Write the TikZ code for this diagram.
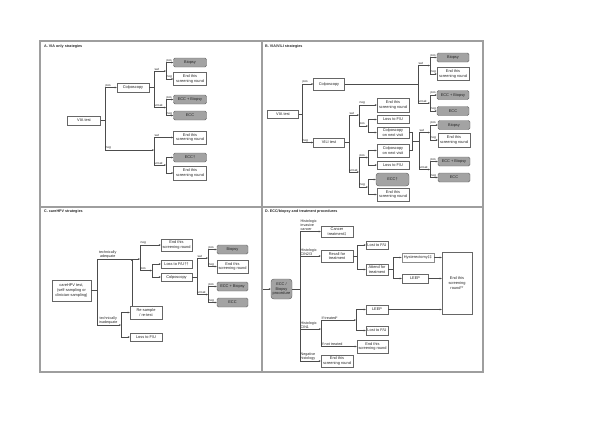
\documentclass[tikz,border=0pt]{standalone}
\usepackage{fontspec}
\setmainfont{Liberation Sans}
\usetikzlibrary{arrows.meta}
\newcommand\bxfont{\fontsize{3.9}{4.7}\selectfont}
\newcommand\lblfont{\fontsize{3.2}{3.8}\selectfont}
\newcommand\wlfont{\fontsize{3.7}{4.3}\selectfont}
\newcommand\ttlfont{\fontsize{3.7}{4.4}\selectfont\bfseries}
\tikzset{
 bx/.style={draw=black!60, line width=0.45pt, fill=white, font=\bxfont, align=center, inner sep=0.3pt, text=black!85},
 gb/.style={bx, fill=black!36, rounded corners=1.5pt},
 sz/.style 2 args={minimum width=#1pt, minimum height=#2pt},
 ln/.style={draw=black!70, line width=0.45pt},
 arr/.style={ln, -{Stealth[length=2pt,width=1.7pt]}},
 lbl/.style={font=\lblfont, anchor=south west, inner sep=0.4pt, text=black!85, pos=0.5},
 wl/.style={lbl, align=left, font=\wlfont},
 frm/.style={draw=black!38, line width=1.4pt},
 ttl/.style={font=\ttlfont, anchor=west, inner sep=0, text=black!85}
}
\begin{document}
\begin{tikzpicture}[x=1pt,y=-1pt]
\useasboundingbox (0,0) rectangle (600,424);
% frame
\draw[frm] (40,41) rectangle (483,372);
\draw[frm] (262,41) -- (262,372);
\draw[frm] (40,207) -- (483,207);
\node[ttl] (tA) at (44,47) {A. VIA only strategies};
\node[ttl] (tB) at (265,47) {B. VIA/VILI strategies};
\node[ttl] (tC) at (44,211.5) {C. careHPV strategies};
\node[ttl] (tD) at (265,211.5) {D. ECC/biopsy and treatment procedures};

% ---------------- Panel A
\node[bx,sz={33}{9}] (viaA) at (84,120.5) {VIA test};
\node[bx,sz={32}{9}] (colA) at (133,87.5) {Colposcopy};
\node[gb,sz={33}{9}] (bioA1) at (190,62.5) {Biopsy};
\node[bx,sz={33}{13}] (endA1) at (190,79) {End this\\screening round};
\node[gb,sz={33}{9}] (eccbA) at (190,99.5) {ECC + Biopsy};
\node[gb,sz={33}{9}] (eccA) at (190,115.5) {ECC};
\node[bx,sz={33}{13}] (endA2) at (190,137.5) {End this\\screening round};
\node[gb,sz={33}{9}] (eccdA) at (190,157.5) {ECC†};
\node[bx,sz={33}{14}] (endA3) at (190,173) {End this\\screening round};
\coordinate (jA0) at (105,120.5);
\coordinate (jA1) at (154,87.5);
\coordinate (jA1s) at (166,71);
\coordinate (jA1u) at (166,107.5);
\coordinate (jA2) at (154,150);
\coordinate (jA2u) at (166,165);
\draw[ln] (viaA.east) -- (jA0);
\draw[arr] (jA0) |- node[lbl]{pos} (colA.west);
\draw[arr] (jA0) |- node[lbl]{neg} (jA2);
\draw[ln] (colA.east) -- (jA1);
\draw[arr] (jA1) |- node[lbl]{sat} (jA1s);
\draw[arr] (jA1) |- node[lbl]{unsat} (jA1u);
\draw[arr] (jA1s) |- node[lbl]{pos} (bioA1.west);
\draw[arr] (jA1s) |- node[lbl]{neg} (endA1.west);
\draw[arr] (jA1u) |- node[lbl]{pos} (eccbA.west);
\draw[arr] (jA1u) |- node[lbl]{neg} (eccA.west);
\draw[arr] (jA2) |- node[lbl]{sat} (endA2.west);
\draw[arr] (jA2) |- node[lbl]{unsat} (jA2u);
\draw[arr] (jA2u) |- (eccdA.west);
\draw[arr] (jA2u) |- (endA3.west);

% ---------------- Panel B
\node[bx,sz={31}{8}] (viaB) at (283,114.5) {VIA test};
\node[bx,sz={31}{12}] (colB) at (329,84) {Colposcopy};
\node[bx,sz={31}{9}] (vili) at (329,142.5) {VILI test};
\node[gb,sz={32}{9}] (bioB1) at (453,57.5) {Biopsy};
\node[bx,sz={32}{13}] (endB1) at (453,74) {End this\\screening round};
\node[gb,sz={32}{9}] (eccbB1) at (453,95) {ECC + Biopsy};
\node[gb,sz={32}{9}] (eccB1) at (453,111) {ECC};
\node[bx,sz={32}{14}] (endB2) at (393,105) {End this\\screening round};
\node[bx,sz={32}{8}] (lossB1) at (393,119.5) {Loss to F/U};
\node[bx,sz={32}{11}] (cnvB1) at (393,132.5) {Colposcopy\\on next visit};
\node[bx,sz={32}{13}] (cnvB2) at (393,150.5) {Colposcopy\\on next visit};
\node[bx,sz={32}{8}] (lossB2) at (393,165) {Loss to F/U};
\node[gb,sz={33}{13},rounded corners=3pt] (eccdB) at (392.5,179.5) {ECC†};
\node[bx,sz={32}{13}] (endB3) at (393,194.5) {End this\\screening round};
\node[gb,sz={32}{9}] (bioB2) at (454,125) {Biopsy};
\node[bx,sz={32}{14}] (endB2b) at (454,140) {End this\\screening round};
\node[gb,sz={32}{9}] (eccbB2) at (454,161.5) {ECC + Biopsy};
\node[gb,sz={32}{9}] (eccB2) at (454,177.5) {ECC};
\coordinate (jB0) at (302,114.5);
\coordinate (jB1) at (418,84);
\coordinate (jB1s) at (430,65.5);
\coordinate (jB1u) at (430,103);
\coordinate (jB2) at (349,142.5);
\coordinate (jB2s) at (359,115);
\coordinate (jB2sp) at (368,126);
\coordinate (jB2u) at (359,172);
\coordinate (jB2up) at (368,157.5);
\coordinate (jB2un) at (368,187);
\coordinate (jB4) at (412,141.5);
\coordinate (jB3) at (419,141.5);
\coordinate (jB3s) at (430,132.5);
\coordinate (jB3u) at (430,169.5);
\draw[ln] (viaB.east) -- (jB0);
\draw[arr] (jB0) |- node[lbl]{pos} (colB.west);
\draw[arr] (jB0) |- node[lbl]{neg} (vili.west);
\draw[ln] (colB.east) -- (jB1);
\draw[arr] (jB1) |- node[lbl]{sat} (jB1s);
\draw[arr] (jB1) |- node[lbl]{unsat} (jB1u);
\draw[arr] (jB1s) |- node[lbl]{pos} (bioB1.west);
\draw[arr] (jB1s) |- node[lbl]{neg} (endB1.west);
\draw[arr] (jB1u) |- node[lbl]{pos} (eccbB1.west);
\draw[arr] (jB1u) |- node[lbl]{neg} (eccB1.west);
\draw[ln] (vili.east) -- (jB2);
\draw[arr] (jB2) |- node[lbl]{sat} (jB2s);
\draw[arr] (jB2) |- node[lbl]{unsat} (jB2u);
\draw[arr] (jB2s) |- node[lbl]{neg} (endB2.west);
\draw[arr] (jB2s) |- node[lbl]{pos} (jB2sp);
\draw[arr] (jB2sp) |- (lossB1.west);
\draw[arr] (jB2sp) |- (cnvB1.west);
\draw[arr] (jB2u) |- node[lbl]{pos} (jB2up);
\draw[arr] (jB2u) |- node[lbl]{neg} (jB2un);
\draw[arr] (jB2up) |- (cnvB2.west);
\draw[arr] (jB2up) |- (lossB2.west);
\draw[arr] (jB2un) |- (eccdB.west);
\draw[arr] (jB2un) |- (endB3.west);
\draw[ln] (cnvB1.east) -| (jB4);
\draw[ln] (cnvB2.east) -| (jB4);
\draw[ln] (jB4) -- (jB3);
\draw[arr] (jB3) |- node[lbl]{sat} (jB3s);
\draw[arr] (jB3) |- node[lbl]{unsat} (jB3u);
\draw[arr] (jB3s) |- node[lbl]{pos} (bioB2.west);
\draw[arr] (jB3s) |- node[lbl]{neg} (endB2b.west);
\draw[arr] (jB3u) |- node[lbl]{pos} (eccbB2.west);
\draw[arr] (jB3u) |- node[lbl]{neg} (eccB2.west);

% ---------------- Panel C
\node[bx,sz={39}{21}] (hpv) at (71.5,290.5) {careHPV test,\\(self-sampling or\\clinician-sampling)};
\node[bx,sz={31}{12}] (endC1) at (176.5,245) {End this\\screening round};
\node[bx,sz={31}{8}] (lossC) at (176.5,264) {Loss to F/U††};
\node[bx,sz={31}{8}] (colC) at (176.5,277) {Colposcopy};
\node[gb,sz={31}{9}] (bioC) at (232.5,249.5) {Biopsy};
\node[bx,sz={31}{13}] (endC2) at (232.5,266.5) {End this\\screening round};
\node[gb,sz={31}{9}] (eccbC) at (232.5,286.5) {ECC + Biopsy};
\node[gb,sz={31}{9}] (eccC) at (232.5,302.5) {ECC};
\node[bx,sz={32}{13}] (resample) at (146,312.5) {Re-sample\\/ re-test};
\node[bx,sz={32}{8}] (lossC2) at (146,337) {Loss to F/U};
\coordinate (jC0) at (97,290.5);
\coordinate (jC1) at (140,259);
\coordinate (jC1p) at (152,270.5);
\coordinate (jC2) at (197,277);
\coordinate (jC2s) at (208,258);
\coordinate (jC2u) at (208,294.5);
\coordinate (jC3) at (121,325);
\draw[ln] (hpv.east) -- (jC0);
\draw[arr] (jC0) |- node[wl,align=center,xshift=1.5pt]{technically\\adequate} (jC1);
\draw[arr] (jC0) |- node[wl,align=center,xshift=1.5pt]{technically\\inadequate} (jC3);
\draw[arr] (jC1) |- node[lbl]{neg} (endC1.west);
\draw[arr] (jC1) |- node[lbl]{pos} (jC1p);
\draw[arr] (jC1p) |- (lossC.west);
\draw[arr] (jC1p) |- (colC.west);
\draw[ln] (colC.east) -- (jC2);
\draw[arr] (jC2) |- node[lbl]{sat} (jC2s);
\draw[arr] (jC2) |- node[lbl]{unsat} (jC2u);
\draw[arr] (jC2s) |- node[lbl]{pos} (bioC.west);
\draw[arr] (jC2s) |- node[lbl]{neg} (endC2.west);
\draw[arr] (jC2u) |- node[lbl]{pos} (eccbC.west);
\draw[arr] (jC2u) |- node[lbl]{neg} (eccC.west);
\draw[arr] (jC3) |- (resample.west);
\draw[arr] (jC3) |- (lossC2.west);
\draw[arr] ([xshift=2pt]resample.north west) -- ([xshift=2pt]resample.north west |- jC1);

% ---------------- Panel D
\node[gb,sz={21}{20},rounded corners=3pt] (ecbp) at (281.5,289) {ECC /\\Biopsy\\procedure};
\node[bx,sz={32}{11}] (cancer) at (337,231.5) {Cancer\\treatment‡};
\node[bx,sz={32}{12}] (recall) at (337,256) {Recall for\\treatment};
\node[bx,sz={32}{12}] (endD3) at (337,361) {End this\\screening round};
\node[bx,sz={22}{8}] (lostD1) at (377,245) {Lost to F/U};
\node[bx,sz={22}{11}] (attend) at (377,269.5) {Attend for\\treatment};
\node[bx,sz={32}{9},line width=0.8pt,draw=black!45] (hyst) at (418,257.5) {Hysterectomy‡‡};
\node[bx,sz={26}{9}] (leepD1) at (415,278.5) {LEEP};
\node[bx,sz={30}{62}] (big) at (457,283) {End this\\screening\\round**};
\node[bx,sz={22}{9}] (leepD2) at (377,309.5) {LEEP};
\node[bx,sz={22}{9}] (lostD2) at (377,330.5) {Lost to F/U};
\node[bx,sz={31}{13}] (endD2) at (372.5,346.5) {End this\\screening round};
\coordinate (inD) at (263,289);
\coordinate (jD0) at (300,289);
\coordinate (jD1) at (321,329);
\coordinate (jD2) at (356,320);
\coordinate (jDr) at (357,256);
\coordinate (jDa) at (393,269.5);
\draw[arr] (inD) -- (ecbp.west);
\draw[ln] (ecbp.east) -- (jD0);
\draw[arr] (jD0) |- node[wl]{Histologic\\invasive\\cancer} (cancer.west);
\draw[arr] (jD0) |- node[wl]{Histologic\\CIN2/3} (recall.west);
\draw[arr] (jD0) |- node[wl]{Histologic\\CIN1} (jD1);
\draw[arr] (jD0) |- node[wl]{Negative\\histology} (endD3.west);
\draw[ln] (recall.east) -- (jDr);
\draw[arr] (jDr) |- (lostD1.west);
\draw[arr] (jDr) |- (attend.west);
\draw[ln] (attend.east) -- (jDa);
\draw[arr] (jDa) |- (hyst.west);
\draw[arr] (jDa) |- (leepD1.west);
\draw[arr] (hyst.east) -- (hyst.east -| big.west);
\draw[arr] (leepD1.east) -- (leepD1.east -| big.west);
\draw[arr] (jD1) |- node[wl]{If treated*} (jD2);
\draw[arr] (jD1) |- node[wl]{If not treated} (endD2.west);
\draw[arr] (jD2) |- (leepD2.west);
\draw[arr] (jD2) |- (lostD2.west);
\draw[arr] (leepD2.east) -- (leepD2.east -| big.west);
\end{tikzpicture}
\end{document}
